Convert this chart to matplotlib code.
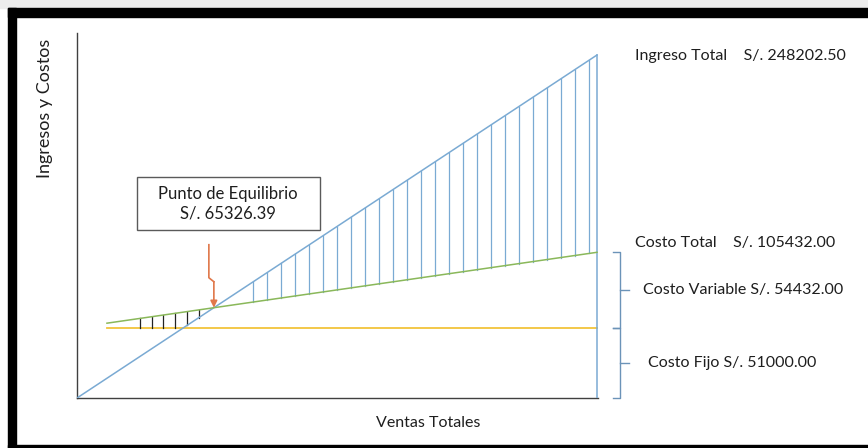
import numpy as np
import matplotlib
matplotlib.use("Agg")
import matplotlib.pyplot as plt
from matplotlib.patches import Rectangle

plt.rcParams['font.family'] = ['Lato', 'DejaVu Sans']

# Datos del punto de equilibrio (S/.)
ingreso_total = 248202.50
costo_total = 105432.00
costo_variable = 54432.00
costo_fijo = 51000.00
punto_equilibrio = 65326.39
ventas_max = 248202.50      # ventas totales al final del eje
ventas_inicio = 14300.0     # donde empiezan las rectas de costos

ratio_cv = costo_variable / ventas_max

W, H = 868, 448
fig = plt.figure(figsize=(W / 100, H / 100), dpi=100)


def px(x, y):
    # pixeles (desde arriba a la izquierda) -> fraccion de la figura
    return x / W, 1 - y / H


def rect(x, y, w, h, color):
    fig.patches.append(Rectangle((x / W, 1 - (y + h) / H), w / W, h / H,
                                 transform=fig.transFigure, color=color, zorder=0))


# marco negro y franja gris superior
rect(0, 0, W, 8, '#ececec')
rect(8, 8, W, 9, 'black')
rect(8, 8, 8, H, 'black')
rect(8, H - 3, W, 3, 'black')

left, top = px(77, 33)
right, bottom = px(598, 398)
ax = fig.add_axes([left, bottom, right - left, top - bottom])
ax.set_xlim(0, ventas_max * (598 - 77) / (597 - 77))
ax.set_ylim(0, ingreso_total * 365 / 343)
for s in ('top', 'right'):
    ax.spines[s].set_visible(False)
for s in ('left', 'bottom'):
    ax.spines[s].set_color('#404040')
    ax.spines[s].set_linewidth(1.0)
ax.set_xticks([])
ax.set_yticks([])
ax.patch.set_alpha(0)

azul = '#7aaad3'
verde = '#8ab85a'
amarillo = '#f2c43a'
naranja = '#e0774a'
texto = '#1e1e1e'


def ingreso(v):
    return v * ingreso_total / ventas_max


def costo(v):
    return costo_fijo + ratio_cv * v


# rectas de ingreso y costos
ventas = np.array([0, ventas_max])
ax.plot(ventas, ingreso(ventas), color=azul, lw=1.1, zorder=3)
ax.plot([ventas_max, ventas_max], [0, ingreso_total], color=azul, lw=1.1, zorder=3)
vc = np.array([ventas_inicio, ventas_max])
ax.plot(vc, [costo_fijo, costo_fijo], color=amarillo, lw=1.3, zorder=2)
ax.plot(vc, costo(vc), color=verde, lw=1.1, zorder=3)

# rayado zona de perdida
for v in np.arange(30000, punto_equilibrio - 4000, 5630):
    ax.plot([v, v], [max(ingreso(v), costo_fijo), costo(v)], color='#222222', lw=0.9, zorder=2)

# rayado zona de ganancia
for v in np.arange(84000, ventas_max - 3000, 6680):
    ax.plot([v, v], [costo(v), ingreso(v)], color=azul, lw=0.9, zorder=2)

# flecha quebrada hacia el punto de equilibrio
pe = (punto_equilibrio, ingreso(punto_equilibrio))
fig.canvas.draw()
x_pe, y_pe = ax.transData.transform(pe)
seg = [(-5, 63), (-5, 30), (0, 26)]
ax.plot([x_pe + dx for dx, dy in seg], [y_pe + dy for dx, dy in seg], color=naranja,
        lw=1.2, transform=None, zorder=5, clip_on=False)
ax.annotate('', xy=pe, xycoords='data',
            xytext=(0, 26 * 0.72), textcoords='offset points',
            arrowprops=dict(arrowstyle='-|>', color=naranja, lw=1.2,
                            mutation_scale=10, shrinkA=0, shrinkB=0), zorder=5)

# cuadro de texto
bx0, by0 = px(137, 230)
bx1, by1 = px(320, 177)
fig.patches.append(Rectangle((bx0, by0), bx1 - bx0, by1 - by0, transform=fig.transFigure,
                             facecolor='white', edgecolor='#5a5a5a', lw=1.0, zorder=6))
fig.text(*px(228, 204), 'Punto de Equilibrio\nS/. %.2f' % punto_equilibrio,
         ha='center', va='center', fontsize=12, color=texto,
         linespacing=1.3, zorder=7)

# llaves a la derecha
llave = '#6b93b8'


def dibujar_llave(y0, y1):
    (_, yb), (_, yt) = ax.transData.transform([(0, y0), (0, y1)])
    x_hook, x_line, x_tick = 613, 620, 629
    ym = (yb + yt) / 2
    fig.lines.append(plt.Line2D([x / W for x in (x_hook, x_line, x_line, x_hook)],
                                [y / H for y in (yt, yt, yb, yb)],
                                transform=fig.transFigure, color=llave, lw=1.0))
    fig.lines.append(plt.Line2D([x_line / W, x_tick / W], [ym / H, ym / H],
                                transform=fig.transFigure, color=llave, lw=1.0))
    return ym


ym1 = dibujar_llave(costo_fijo, costo_total)
ym2 = dibujar_llave(0, costo_fijo)

kw = dict(fontsize=11.5, color=texto, va='center', ha='left')
fig.text(*px(635, 56), 'Ingreso Total    S/. %.2f' % ingreso_total, **kw)
fig.text(*px(635, 243), 'Costo Total    S/. %.2f' % costo_total, **kw)
fig.text(643 / W, ym1 / H, 'Costo Variable S/. %.2f' % costo_variable, **kw)
fig.text(648 / W, ym2 / H, 'Costo Fijo S/. %.2f' % costo_fijo, **kw)

fig.text(*px(428, 423), 'Ventas Totales', fontsize=11.5, color=texto,
         ha='center', va='center')
fig.text(*px(45, 108), 'Ingresos y Costos', fontsize=13, color=texto,
         ha='center', va='center', rotation=90)

fig.savefig('out.png', dpi=100)
